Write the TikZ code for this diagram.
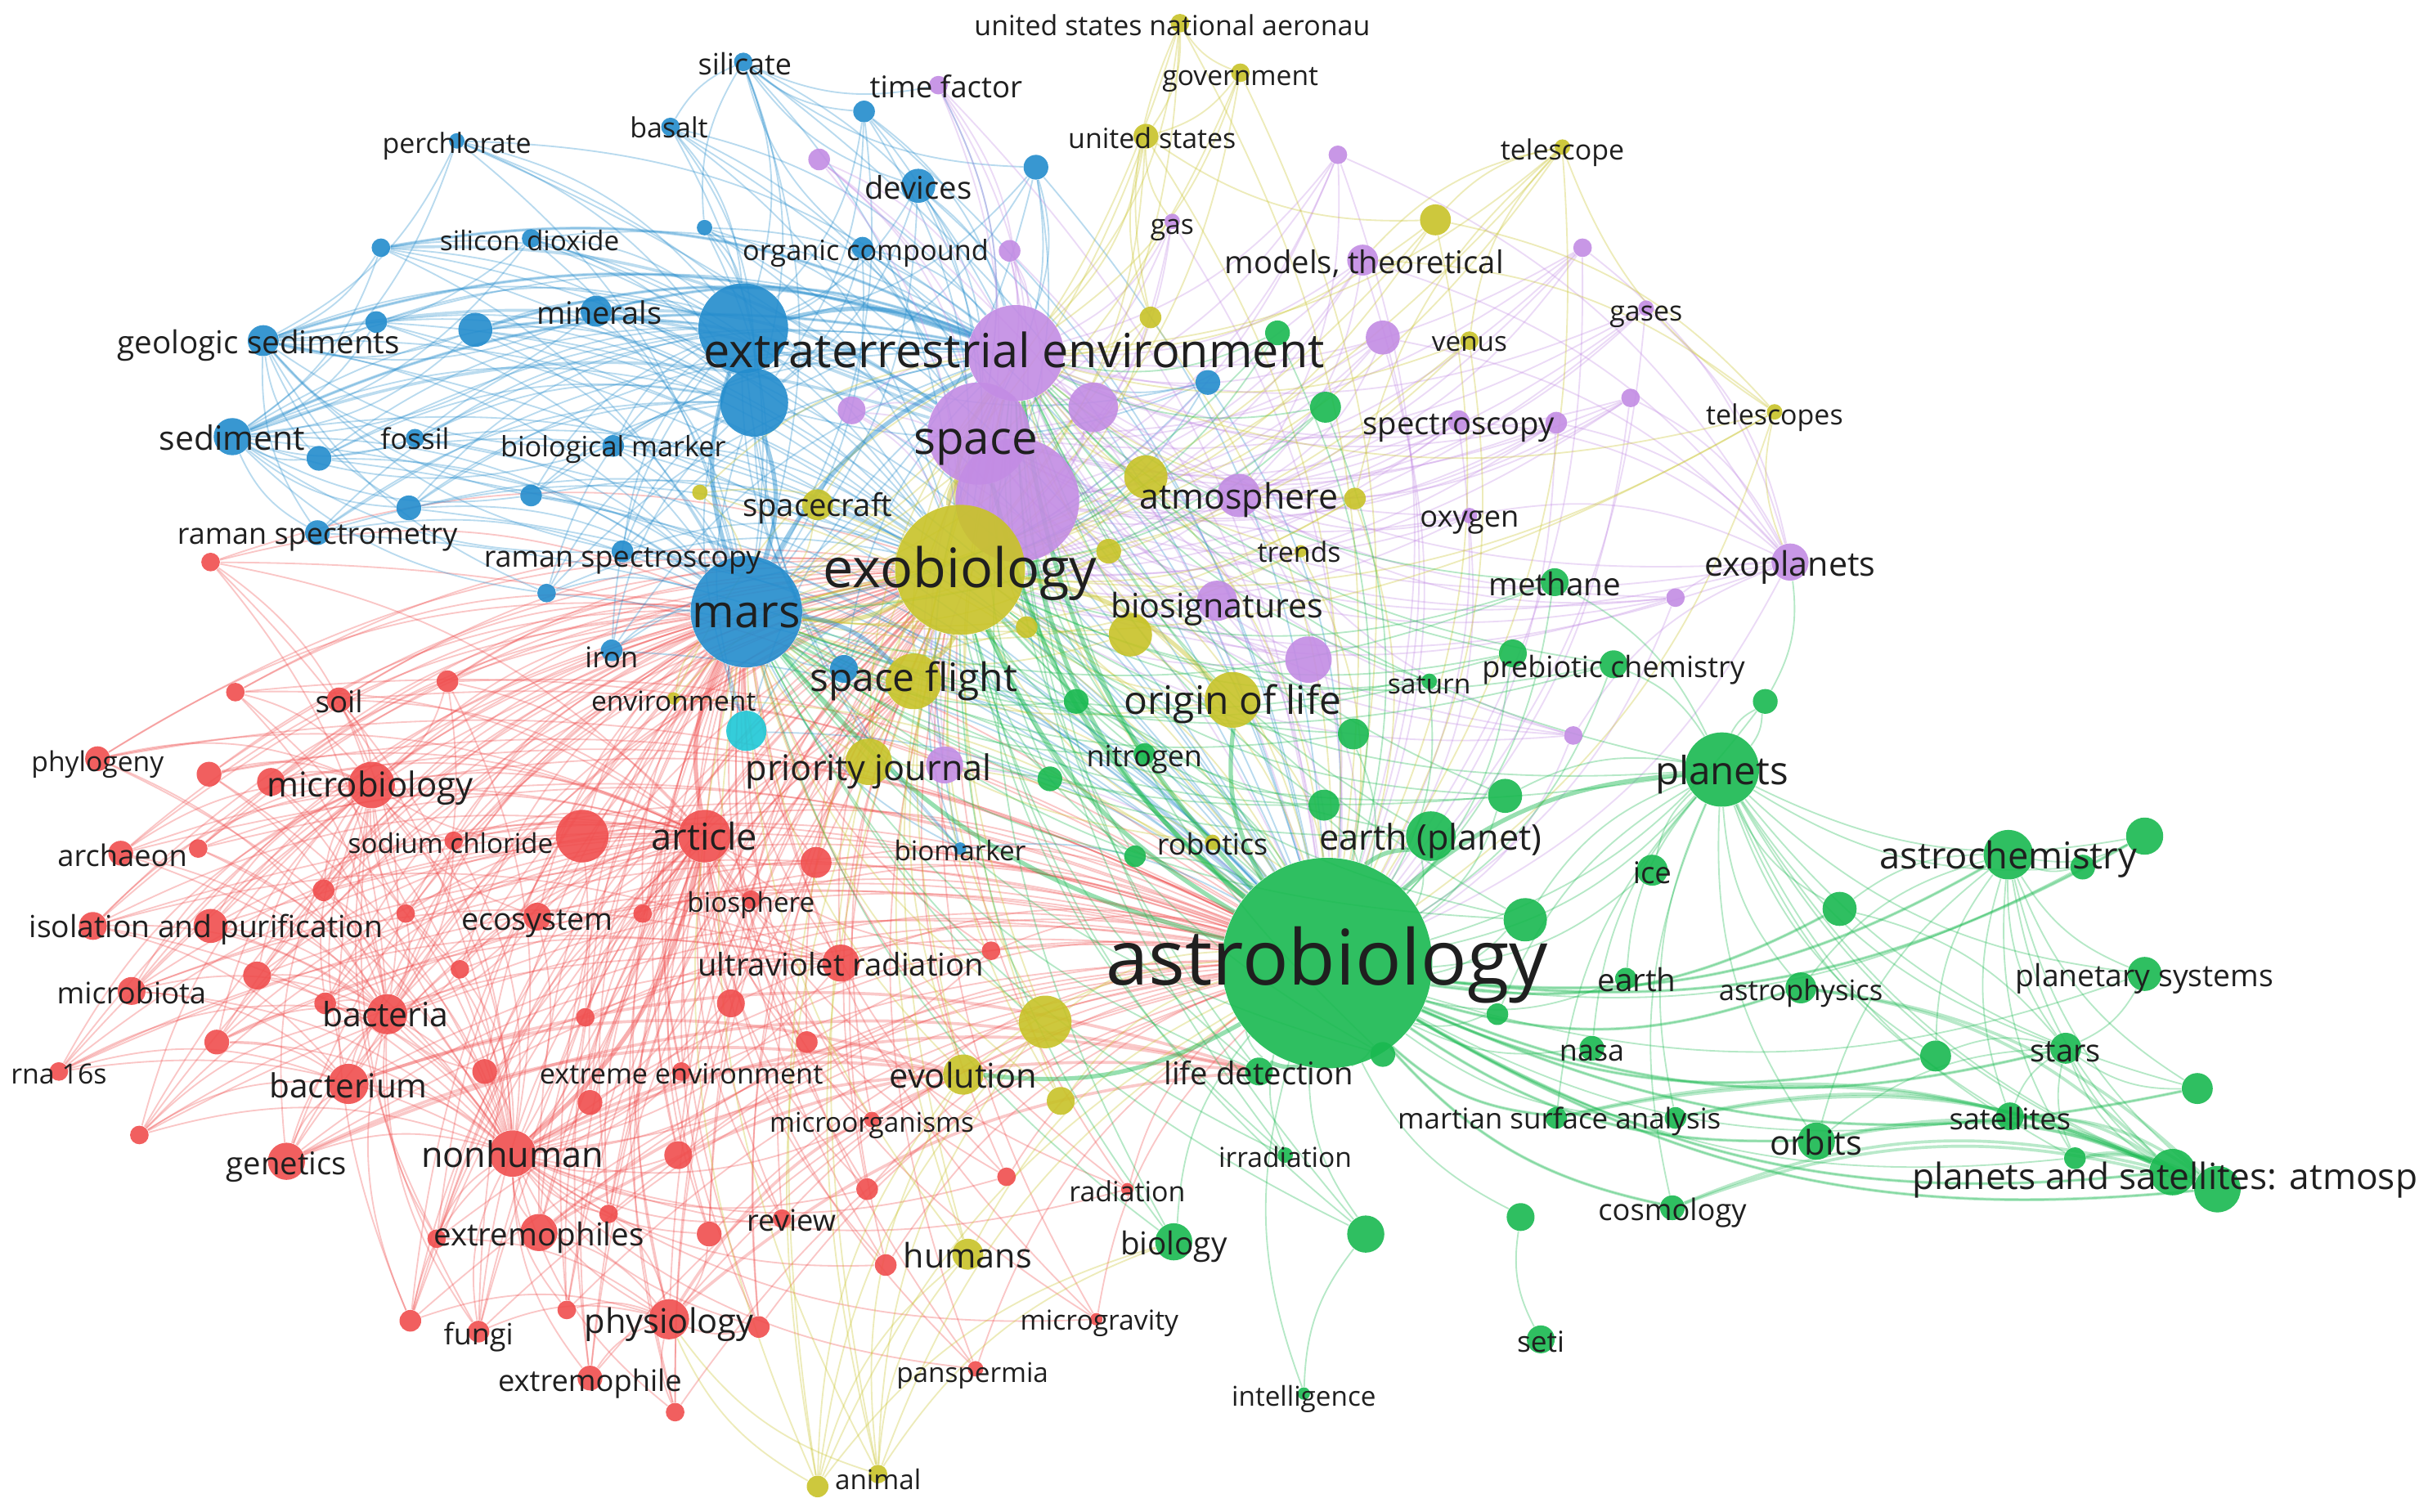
\documentclass[tikz,border=0pt]{standalone}
\usepackage{fontspec}
\setmainfont{Open Sans}
\definecolor{B}{RGB}{35,140,205}
\definecolor{P}{RGB}{195,140,228}
\definecolor{Y}{RGB}{200,195,40}
\definecolor{G}{RGB}{25,185,80}
\definecolor{R}{RGB}{240,78,78}
\definecolor{C}{RGB}{30,200,215}
\pgfdeclarelayer{bg}\pgfdeclarelayer{edges}\pgfdeclarelayer{labels}
\pgfsetlayers{bg,edges,main,labels}
\tikzset{
 dot/.style={circle,inner sep=0pt,draw=none,fill=#1,fill opacity=0.9},
 lbl/.style={text=black!88,inner sep=0pt,anchor=mid},
 ed/.style={draw=#1,draw opacity=0.32,line width=0.55pt,bend left=18},
 edw/.style={draw=#1,draw opacity=0.3,line width=1.1pt,bend left=18},
 eh/.style={draw=#1,draw opacity=0.45,line width=1.6pt,bend left=18}
}
\newcommand\Nd[5]{\node[dot=#5,minimum size={#4*0.04cm}] (#1) at (#2,#3) {};}
\newcommand\Lb[5]{\node[lbl,yshift={-0.19*#4 pt},font=\fontsize{#4}{#4}\selectfont] (l#1) at (#2,#3) {#5};}
\newcommand\Edg[3]{\foreach \ea in {#2} {\foreach \eh in {#3} {\draw[ed=#1] (\ea) to (\eh);}}}
\newcommand\Edw[3]{\foreach \ea in {#2} {\foreach \eh in {#3} {\draw[edw=#1] (\ea) to (\eh);}}}
\begin{document}
\begin{tikzpicture}[x=0.02cm,y=-0.02cm]
\begin{pgfonlayer}{bg}
\fill[white] (0,0) rectangle (1568,976);
\end{pgfonlayer}
\useasboundingbox (0,0) rectangle (1568,976);
% ---------- blue
\Nd{silicate}{480}{40}{6}{B}\Nd{basalt}{433}{82}{6}{B}\Nd{perchl}{295}{91}{5}{B}
\Nd{b1}{558}{72}{7}{B}\Nd{b2}{669}{108}{8}{B}\Nd{devices}{593}{120}{11}{B}
\Nd{orgcomp}{557}{160}{7}{B}\Nd{sio2}{343}{154}{6}{B}\Nd{b3}{246}{160}{6}{B}
\Nd{b4}{455}{147}{5}{B}\Nd{minerals}{385}{201}{10}{B}\Nd{b5}{307}{213}{11}{B}
\Nd{b6}{243}{208}{7}{B}\Nd{geosed}{170}{220}{10}{B}\Nd{bbig}{480}{212}{29}{B}
\Nd{bbig2}{487}{260}{22}{B}\Nd{sediment}{150}{282}{12}{B}\Nd{fossil}{268}{283}{6}{B}
\Nd{b7}{206}{296}{8}{B}\Nd{biomark}{396}{288}{7}{B}\Nd{b8}{343}{320}{7}{B}
\Nd{b9}{264}{328}{8}{B}\Nd{ramanm}{205}{344}{8}{B}\Nd{ramans}{402}{356}{7}{B}
\Nd{b10}{353}{383}{6}{B}\Nd{mars}{482}{395}{36}{B}\Nd{iron}{395}{420}{7}{B}
\Nd{b11}{545}{432}{9}{B}\Nd{biomarker}{620}{548}{4}{B}\Nd{b12}{780}{247}{8}{B}
\Nd{cy}{482}{472}{13}{C}
% ---------- purple
\Nd{extenv}{656}{228}{31}{P}\Nd{space}{632}{280}{33}{P}\Nd{pbig}{657}{323}{40}{P}
\Nd{p1}{706}{263}{16}{P}\Nd{p2}{550}{265}{9}{P}\Nd{p3}{529}{103}{7}{P}
\Nd{timef}{606}{55}{6}{P}\Nd{p4}{652}{162}{7}{P}\Nd{gas}{757}{143}{5}{P}
\Nd{p5}{864}{100}{6}{P}\Nd{models}{880}{168}{10}{P}\Nd{p6}{893}{218}{11}{P}
\Nd{p7}{1022}{160}{6}{P}\Nd{gases}{1063}{199}{5}{P}\Nd{p8}{1053}{257}{6}{P}
\Nd{spectro}{942}{272}{7}{P}\Nd{p9}{1005}{273}{7}{P}\Nd{atmos}{800}{320}{14}{P}
\Nd{oxygen}{949}{333}{5}{P}\Nd{exopl}{1156}{363}{12}{P}\Nd{p10}{1082}{386}{6}{P}
\Nd{biosig}{786}{388}{13}{P}\Nd{p11}{845}{426}{15}{P}\Nd{p12}{1016}{475}{6}{P}
\Nd{p13}{610}{494}{12}{P}
% ---------- yellow
\Nd{usnasa}{762}{15}{6}{Y}\Nd{govt}{801}{47}{6}{Y}\Nd{us}{740}{88}{8}{Y}
\Nd{telescope}{1009}{95}{5}{Y}\Nd{y1}{927}{142}{10}{Y}\Nd{y2}{743}{205}{7}{Y}
\Nd{venus}{949}{220}{6}{Y}\Nd{telescopes}{1146}{266}{5}{Y}\Nd{y3}{875}{322}{7}{Y}
\Nd{exo}{620}{368}{42}{Y}\Nd{scraft}{528}{326}{10}{Y}\Nd{y4}{452}{318}{5}{Y}
\Nd{y5}{740}{308}{14}{Y}\Nd{trends}{840}{356}{4}{Y}\Nd{y6}{716}{356}{8}{Y}
\Nd{y7}{730}{410}{14}{Y}\Nd{y8}{663}{405}{7}{Y}\Nd{sflight}{590}{440}{18}{Y}
\Nd{ool}{796}{452}{18}{Y}\Nd{pjournal}{561}{492}{15}{Y}\Nd{robotics}{783}{544}{5}{Y}
\Nd{evol}{622}{694}{13}{Y}\Nd{y9}{675}{660}{17}{Y}\Nd{y10}{685}{711}{9}{Y}
\Nd{humans}{625}{810}{10}{Y}\Nd{animal}{567}{952}{6}{Y}\Nd{y11}{528}{960}{7}{Y}
\Nd{environ}{435}{451}{4}{Y}
% ---------- green
\Nd{astro}{857}{622}{68}{G}\Nd{earthp}{924}{540}{16}{G}\Nd{planets}{1112}{497}{24}{G}
\Nd{astroch}{1297}{552}{16}{G}\Nd{g1}{1385}{540}{12}{G}\Nd{g2}{1345}{560}{8}{G}
\Nd{g3}{1188}{587}{11}{G}\Nd{plsys}{1385}{629}{11}{G}\Nd{stars}{1334}{677}{10}{G}
\Nd{g4}{1250}{682}{10}{G}\Nd{g5}{1419}{703}{10}{G}\Nd{satell}{1298}{721}{9}{G}
\Nd{g6}{1340}{748}{7}{G}\Nd{psa}{1403}{757}{15}{G}\Nd{g7}{1432}{768}{15}{G}
\Nd{orbits}{1173}{737}{12}{G}\Nd{msa}{1005}{722}{7}{G}\Nd{g8}{1082}{722}{7}{G}
\Nd{cosmo}{1080}{780}{8}{G}\Nd{seti}{995}{865}{9}{G}\Nd{g9}{982}{786}{9}{G}
\Nd{g10}{882}{797}{12}{G}\Nd{intell}{842}{900}{4}{G}\Nd{irrad}{830}{746}{5}{G}
\Nd{biology}{758}{802}{12}{G}\Nd{lifedet}{813}{692}{9}{G}\Nd{nasa}{1028}{677}{8}{G}
\Nd{earth}{1050}{632}{7}{G}\Nd{astroph}{1163}{638}{10}{G}\Nd{ice}{1067}{562}{10}{G}
\Nd{g11}{985}{594}{14}{G}\Nd{g12}{967}{655}{7}{G}\Nd{g13}{893}{681}{8}{G}
\Nd{g14}{972}{514}{11}{G}\Nd{g15}{1140}{453}{8}{G}\Nd{prebiotic}{1042}{429}{9}{G}
\Nd{g16}{977}{422}{9}{G}\Nd{saturn}{923}{440}{5}{G}\Nd{methane}{1004}{376}{9}{G}
\Nd{g17}{874}{474}{10}{G}\Nd{g18}{855}{520}{10}{G}\Nd{g19}{733}{553}{7}{G}
\Nd{g20}{695}{453}{8}{G}\Nd{g21}{678}{503}{8}{G}\Nd{nitrogen}{739}{487}{7}{G}
\Nd{g22}{856}{263}{10}{G}\Nd{g23}{825}{215}{8}{G}
% ---------- red
\Nd{phylo}{63}{490}{8}{R}\Nd{r1}{136}{363}{6}{R}\Nd{r2}{152}{447}{6}{R}
\Nd{soil}{219}{452}{8}{R}\Nd{r3}{289}{440}{7}{R}\Nd{r4}{135}{500}{8}{R}
\Nd{microbio}{240}{507}{15}{R}\Nd{r5}{175}{505}{9}{R}\Nd{archaeon}{78}{551}{8}{R}
\Nd{r6}{128}{548}{6}{R}\Nd{nacl}{293}{543}{6}{R}\Nd{r7}{376}{540}{17}{R}
\Nd{article}{455}{540}{17}{R}\Nd{r8}{527}{557}{10}{R}\Nd{biosph}{485}{581}{6}{R}
\Nd{r9}{209}{575}{7}{R}\Nd{isol}{60}{598}{9}{R}\Nd{r10}{136}{598}{11}{R}
\Nd{ecosys}{347}{592}{9}{R}\Nd{r11}{262}{590}{6}{R}\Nd{r12}{415}{590}{6}{R}
\Nd{microbiota}{85}{640}{9}{R}\Nd{r13}{166}{630}{9}{R}\Nd{r14}{210}{648}{7}{R}
\Nd{r15}{297}{626}{6}{R}\Nd{bacteria}{250}{655}{13}{R}\Nd{r16}{378}{657}{6}{R}
\Nd{uv}{543}{622}{12}{R}\Nd{r17}{640}{614}{6}{R}\Nd{r18}{472}{648}{9}{R}
\Nd{r19}{140}{673}{8}{R}\Nd{r20}{521}{673}{7}{R}\Nd{rna}{38}{692}{6}{R}
\Nd{bacterium}{225}{700}{13}{R}\Nd{r21}{313}{692}{8}{R}\Nd{r22}{381}{712}{8}{R}
\Nd{extenvr}{440}{692}{6}{R}\Nd{r23}{90}{733}{6}{R}\Nd{genetics}{185}{750}{12}{R}
\Nd{nonhuman}{331}{745}{15}{R}\Nd{r24}{438}{746}{9}{R}\Nd{r25}{560}{768}{7}{R}
\Nd{r26}{650}{760}{6}{R}\Nd{r27}{458}{797}{8}{R}\Nd{review}{505}{787}{6}{R}
\Nd{extremophiles}{348}{796}{12}{R}\Nd{r28}{393}{784}{6}{R}\Nd{r29}{282}{800}{6}{R}
\Nd{r30}{572}{817}{7}{R}\Nd{physio}{432}{852}{13}{R}\Nd{r31}{366}{846}{6}{R}
\Nd{r32}{490}{857}{7}{R}\Nd{fungi}{309}{860}{7}{R}\Nd{r33}{265}{853}{7}{R}
\Nd{extremophile}{381}{890}{8}{R}\Nd{r34}{436}{912}{6}{R}\Nd{radiation}{728}{768}{4}{R}
\Nd{microgr}{708}{852}{4}{R}\Nd{pansp}{630}{884}{5}{R}\Nd{microorg}{563}{723}{5}{R}
% ================= edges
\begin{pgfonlayer}{edges}
% red
\Edg{R}{phylo,r1,r2,soil,r3,r4,microbio,r5,archaeon,r6,nacl,r7,r8,biosph,r9,isol,r10,ecosys,r11,r12,microbiota,r13,r14,r15,bacteria,r16,uv,r17,r18,r19,r20,rna,bacterium,r21,r22,extenvr,r23,genetics,r24,r25,r26,r27,review,extremophiles,r28,r29,r30,physio,r31,r32,fungi,r33,extremophile,r34,radiation,microgr,pansp,microorg}{article,nonhuman,mars,exo,astro}
\Edg{R}{phylo,r1,r2,soil,r3,r4,r5,archaeon,r6,nacl,r9,isol,r10,microbiota,r13,r14,r15,r11,r19,rna,r23,bacterium,genetics,r21,r29,r33,fungi,ecosys,r7}{bacteria,microbio}
\Edg{R}{r29,r33,fungi,extremophile,r31,r34,r32,extremophiles,r27,r28}{physio,sflight}
\Edg{R}{rna,r23,r19,microbiota,isol,genetics}{bacterium,uv}
\Edw{R}{genetics,bacterium,nonhuman,extremophiles,physio}{evol,lifedet}
% blue
\Edg{B}{silicate,basalt,perchl,b1,b2,devices,orgcomp,sio2,b3,b4,minerals,b5,b6,geosed,sediment,fossil,b7,biomark,b8,b9,ramanm,ramans,b10,iron,b11,biomarker,b12,cy}{mars,bbig,bbig2,extenv,exo,astro}
\Edg{B}{b3,sio2,b6,b5,minerals,fossil,b7,biomark,b8,b9,ramanm,ramans,b10,perchl}{sediment,geosed}
\Edg{B}{basalt,b1,b2,devices,orgcomp,b4,timef}{silicate,space}
\Edw{B}{geosed,sediment,minerals,b5,b3}{extenv,space}
% purple
\Edg{P}{p1,p2,p3,timef,p4,gas,p5,models,p6,p7,gases,p8,spectro,p9,atmos,oxygen,exopl,p10,biosig,p11,p12,p13}{extenv,space,pbig,exo,astro}
\Edg{P}{p5,p7,gases,p8,spectro,p9,oxygen,p10,p12,models,p6}{exopl,atmos}
% yellow
\Edg{Y}{usnasa,govt,us,telescope,y1,y2,venus,telescopes,y3,scraft,y4,y5,trends,y6,y7,y8,sflight,ool,pjournal,robotics,evol,y9,y10,humans,animal,y11,environ}{exo,astro,extenv,mars}
\Edg{Y}{usnasa,govt,y2,gas,y1}{us}
\Edg{Y}{govt,y2}{usnasa}
\Edg{Y}{y1,models,venus,telescopes,y3}{telescope}
\Edg{Y}{exopl,y1,models}{telescopes}
\Edg{Y}{animal,y11}{humans,evol,y9,biology,physio}
% green
\Edg{G}{earthp,planets,astroch,g1,g2,g3,plsys,stars,g4,g5,satell,g6,psa,g7,orbits,msa,g8,cosmo,g9,g10,intell,irrad,biology,lifedet,nasa,earth,astroph,ice,g11,g12,g13,g14,g15,prebiotic,g16,saturn,methane,g17,g18,g19,g20,g21,nitrogen,g22,g23}{astro}
\Edw{G}{astroch,g1,g3,stars,g4,psa,g7,orbits,msa,cosmo,astroph,g5}{astro}
\Edg{G}{earthp,planets,biology,lifedet,g11,g13,g14,g16,saturn,methane,g17,g18,g19,g20,g21,nitrogen,g22,g23,prebiotic,irrad,g10}{exo,mars,extenv}
\Edg{G}{g1,g2,g3,plsys,stars,g4,g5,satell,g6,psa,g7,orbits,msa,g8,cosmo,astroph,ice,earth,nasa,g11,g12,g15,prebiotic,methane,g14}{planets}
\Edg{G}{g1,g2,g3,plsys,stars,g4,g5,satell,g6,psa,g7,orbits,astroph}{astroch}
\Edg{G}{g4,satell,g6,orbits,g3,plsys,g5,psa,g7}{stars}
\Edw{G}{msa,g8,cosmo,orbits,satell,g6,astroph}{psa,g7}
\Edg{G}{seti}{g9}
\Edg{G}{intell}{g10}
\Edg{G}{exopl,planets}{g15}
% hubs
\foreach \ea/\eh/\ec in {astro/exo/G,astro/mars/G,astro/extenv/G,astro/space/G,astro/pbig/G,astro/planets/G,astro/earthp/G,astro/ool/G,exo/mars/Y,exo/extenv/Y,exo/space/Y,exo/sflight/Y,exo/ool/Y,mars/extenv/B,mars/bbig/B,bbig/extenv/B,bbig2/mars/B,mars/sflight/B,article/nonhuman/R,article/mars/R,space/pbig/P,extenv/space/P,astro/evol/G,astro/lifedet/G}
 {\draw[eh=\ec] (\ea) to (\eh);}
\end{pgfonlayer}
% ================= labels
\begin{pgfonlayer}{labels}
\Lb{1}{481}{40}{10.8}{silicate}
\Lb{2}{432}{81}{10.2}{basalt}
\Lb{3}{295}{91}{10.2}{perchlorate}
\Lb{4}{611}{55}{11}{time factor}
\Lb{5}{757}{15}{10.2}{united states national aeronau}
\Lb{6}{801}{47}{10.1}{government}
\Lb{7}{744}{88}{10.2}{united states}
\Lb{8}{1009}{95}{10.2}{telescope}
\Lb{9}{593}{120}{11.5}{devices}
\Lb{10}{342}{154}{10}{silicon dioxide}
\Lb{11}{559}{160}{10.3}{organic compound}
\Lb{12}{757}{143}{10.1}{gas}
\Lb{13}{881}{168}{11.5}{models, theoretical}
\Lb{14}{1063}{199}{10.2}{gases}
\Lb{15}{387}{201}{11.4}{minerals}
\Lb{16}{167}{220}{11.6}{geologic sediments}
\Lb{17}{655}{227}{17.3}{extraterrestrial environment}
\Lb{18}{949}{219}{10}{venus}
\Lb{19}{150}{282}{12.3}{sediment}
\Lb{20}{268}{282}{10.5}{fossil}
\Lb{21}{396}{287}{10.3}{biological marker}
\Lb{22}{630}{283}{17}{space}
\Lb{23}{942}{272}{11.5}{spectroscopy}
\Lb{24}{1146}{266}{10.2}{telescopes}
\Lb{25}{528}{325}{11.5}{spacecraft}
\Lb{26}{800}{320}{12.9}{atmosphere}
\Lb{27}{949}{332}{10.9}{oxygen}
\Lb{28}{205}{343}{10.8}{raman spectrometry}
\Lb{29}{402}{358}{10.8}{raman spectroscopy}
\Lb{30}{620}{368}{20}{exobiology}
\Lb{31}{839}{355}{10.2}{trends}
\Lb{32}{1004}{376}{11.6}{methane}
\Lb{33}{1156}{363}{12.4}{exoplanets}
\Lb{34}{482}{395}{16.7}{mars}
\Lb{35}{786}{390}{12.4}{biosignatures}
\Lb{36}{395}{423}{10.5}{iron}
\Lb{37}{1042}{429}{10.8}{prebiotic chemistry}
\Lb{38}{923}{440}{10.1}{saturn}
\Lb{39}{219}{452}{11}{soil}
\Lb{40}{435}{451}{10.1}{environment}
\Lb{41}{590}{437}{14.4}{space flight}
\Lb{42}{796}{452}{14.4}{origin of life}
\Lb{43}{63}{490}{10.1}{phylogeny}
\Lb{44}{239}{506}{12.6}{microbiology}
\Lb{45}{561}{495}{13}{priority journal}
\Lb{46}{739}{487}{10.8}{nitrogen}
\Lb{47}{1112}{497}{14.3}{planets}
\Lb{48}{79}{551}{10.9}{archaeon}
\Lb{49}{291}{543}{10}{sodium chloride}
\Lb{50}{455}{540}{13.6}{article}
\Lb{51}{620}{548}{10}{biomarker}
\Lb{52}{783}{544}{10.8}{robotics}
\Lb{53}{924}{540}{13}{earth (planet)}
\Lb{54}{1297}{552}{13.6}{astrochemistry}
\Lb{55}{1067}{562}{11}{ice}
\Lb{56}{485}{581}{10}{biosphere}
\Lb{57}{133}{597}{11.2}{isolation and purification}
\Lb{58}{347}{592}{11.3}{ecosystem}
\Lb{59}{543}{622}{11.5}{ultraviolet radiation}
\Lb{60}{857}{622}{28.2}{astrobiology}
\Lb{61}{1057}{632}{11.6}{earth}
\Lb{62}{1163}{638}{10.4}{astrophysics}
\Lb{63}{1385}{629}{11.2}{planetary systems}
\Lb{64}{85}{640}{10.9}{microbiota}
\Lb{65}{249}{654}{12.3}{bacteria}
\Lb{66}{38}{692}{10.2}{rna 16s}
\Lb{67}{1334}{677}{11.4}{stars}
\Lb{68}{1028}{677}{10.8}{nasa}
\Lb{69}{225}{700}{12.2}{bacterium}
\Lb{70}{440}{692}{10.3}{extreme environment}
\Lb{71}{622}{694}{12.5}{evolution}
\Lb{72}{813}{692}{11.5}{life detection}
\Lb{73}{563}{723}{10}{microorganisms}
\Lb{74}{1007}{721}{10.5}{martian surface analysis}
\Lb{75}{1298}{721}{10.9}{satellites}
\Lb{76}{1173}{737}{12.5}{orbits}
\Lb{77}{185}{750}{11.5}{genetics}
\Lb{78}{331}{745}{13}{nonhuman}
\Lb{79}{830}{746}{10.1}{irradiation}
\Lb{80}{1398}{759}{13.3}{planets and satellites: atmosp}
\Lb{81}{728}{768}{10.2}{radiation}
\Lb{82}{1080}{780}{10.9}{cosmology}
\Lb{83}{511}{787}{10.9}{review}
\Lb{84}{348}{796}{11.6}{extremophiles}
\Lb{85}{758}{802}{11.6}{biology}
\Lb{86}{625}{810}{12.4}{humans}
\Lb{87}{432}{852}{12.5}{physiology}
\Lb{88}{710}{851}{10.1}{microgravity}
\Lb{89}{309}{860}{10.8}{fungi}
\Lb{90}{995}{865}{10.6}{seti}
\Lb{91}{381}{890}{10.9}{extremophile}
\Lb{92}{628}{885}{10}{panspermia}
\Lb{93}{842}{900}{10}{intelligence}
\Lb{94}{567}{954}{10}{animal}
\end{pgfonlayer}
\end{tikzpicture}
\end{document}
